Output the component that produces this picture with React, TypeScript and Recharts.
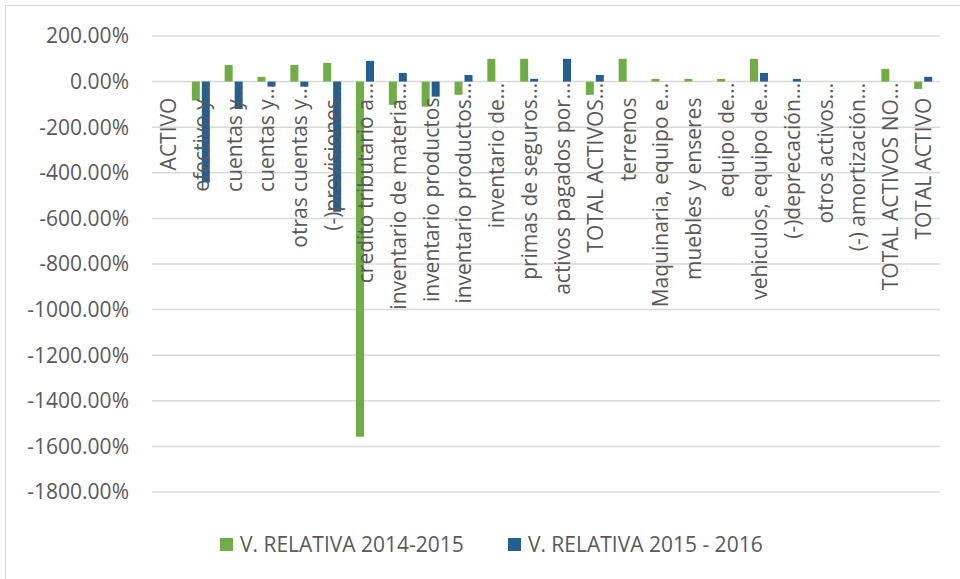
import React from 'react';
import { BarChart, Bar, XAxis, YAxis, CartesianGrid, Legend } from 'recharts';

const categories = [
  'ACTIVO',
  'efectivo y...',
  'cuentas y...',
  'cuentas y...',
  'otras cuentas y...',
  '(-)provisiones...',
  'credito tributario a...',
  'inventario de materia...',
  'inventario productos',
  'inventario productos...',
  'inventario de...',
  'primas de seguros...',
  'activos pagados por...',
  'TOTAL ACTIVOS...',
  'terrenos',
  'Maquinaria, equipo e...',
  'muebles y enseres',
  'equipo de...',
  'vehiculos, equipo de...',
  '(-)deprecación...',
  'otros activos...',
  '(-) amortización...',
  'TOTAL ACTIVOS NO...',
  'TOTAL ACTIVO',
];

const relative2014to2015: (number | null)[] = [
  null, -83, 73, 21, 73, 82, -1558, -102, -110, -58, 100, 100, null, -58, 100, 12, 12, 12, 100, null, null, null, 56, -32,
];

const relative2015to2016: (number | null)[] = [
  null, -443, -120, -22, -22, -571, 91, 38, -66, 29, null, 12, 100, 29, null, null, null, null, 38, 12, null, null, null, 21,
];

const yTicks = [200, 0, -200, -400, -600, -800, -1000, -1200, -1400, -1600, -1800];

const seriesNames = ['V. RELATIVA 2014-2015', 'V. RELATIVA 2015 - 2016'];
const seriesColors = ['#70AD47', '#255E91'];

const data = categories.map((name, i) => ({
  name,
  a: relative2014to2015[i],
  b: relative2015to2016[i],
}));

const CHART_W = 954;
const CHART_H = 574;
const MARGIN = { top: 30, right: 20, left: 0, bottom: 21 };
const LEGEND_H = 30;
const XAXIS_H = 37;
const Y_MIN = -1800;
const Y_MAX = 200;
const PLOT_H = CHART_H - MARGIN.top - MARGIN.bottom - LEGEND_H - XAXIS_H;
const ZERO_Y = MARGIN.top + (PLOT_H * (Y_MAX - 0)) / (Y_MAX - Y_MIN);

const FONT = "'Open Sans', sans-serif";
const TEXT = '#595959';

const CategoryTick = (props: any) => {
  const { x, payload } = props;
  const label: string = payload.value;
  const truncated = label.endsWith('...');
  const yEnd = ZERO_Y + (truncated ? 1 : 16);
  return (
    <text
      transform={`translate(${x + 7.5},${yEnd}) rotate(-90)`}
      textAnchor="end"
      fill={TEXT}
      fontSize={21}
      fontFamily={FONT}
    >
      {label}
    </text>
  );
};

const LegendContent = () => (
  <div
    style={{
      height: LEGEND_H,
      display: 'flex',
      alignItems: 'center',
      paddingLeft: 214,
      fontFamily: FONT,
      fontSize: 21,
      color: TEXT,
      whiteSpace: 'nowrap',
    }}
  >
    {seriesNames.map((n, i) => (
      <span key={n} style={{ display: 'flex', alignItems: 'center', marginRight: 44 }}>
        <span style={{ width: 13, height: 13, background: seriesColors[i], marginRight: 7, display: 'inline-block' }} />
        <span>{n}</span>
      </span>
    ))}
  </div>
);

export default function App() {
  return (
    <div
      style={{
        position: 'absolute',
        left: 5,
        top: 5,
        width: CHART_W,
        height: CHART_H,
        border: '1px solid #d9d9d9',
        background: '#fff',
      }}
    >
      <BarChart width={CHART_W} height={CHART_H} data={data} margin={MARGIN} barGap={2}>
        <CartesianGrid vertical={false} stroke="#d9d9d9" strokeWidth={1.5} />
        <XAxis
          dataKey="name"
          interval={0}
          height={XAXIS_H}
          axisLine={false}
          tickLine={false}
          tick={<CategoryTick />}
        />
        <YAxis
          width={146}
          domain={[Y_MIN, Y_MAX]}
          ticks={yTicks}
          interval={0}
          axisLine={false}
          tickLine={false}
          tickMargin={17}
          tickFormatter={(v: number) => `${v.toFixed(2)}%`}
          tick={{ fill: TEXT, fontSize: 21, fontFamily: FONT }}
        />
        <Legend verticalAlign="bottom" height={LEGEND_H} content={<LegendContent />} />
        <Bar dataKey="a" name={seriesNames[0]} fill={seriesColors[0]} barSize={8} isAnimationActive={false} />
        <Bar dataKey="b" name={seriesNames[1]} fill={seriesColors[1]} barSize={8} isAnimationActive={false} />
      </BarChart>
    </div>
  );
}
